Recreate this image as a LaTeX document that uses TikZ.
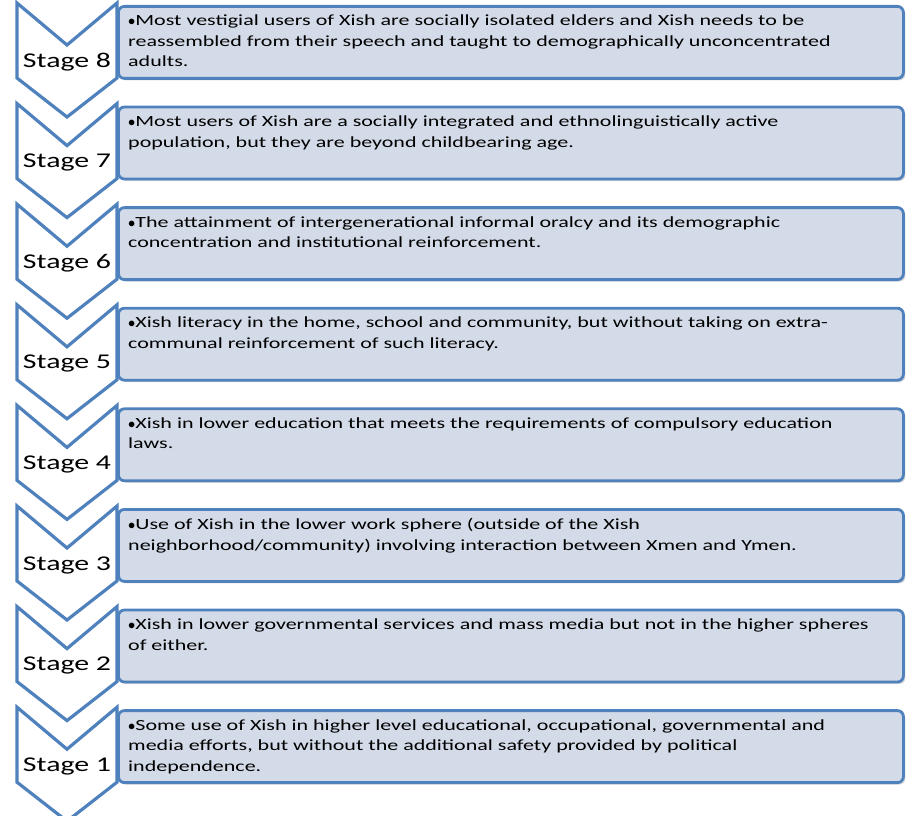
\documentclass[tikz,border=0pt]{standalone}
\usepackage{fontspec}
\setmainfont{Carlito}[FakeStretch=1.42]
\usetikzlibrary{calc,shadows,positioning}
\definecolor{chevblue}{RGB}{79,129,189}
\definecolor{boxfill}{RGB}{211,219,232}

\begin{document}
\begin{tikzpicture}[x=1pt,y=-1pt]
    \tikzstyle{chevron}=[draw=chevblue,fill=white,line width=3.2pt,line join=miter]
    \tikzstyle{stagebox}=[draw=chevblue,fill=boxfill,line width=2.8pt,rounded corners=6pt,drop shadow={shadow xshift=2pt,shadow yshift=-2pt,opacity=.3}]
    \tikzstyle{stagetxt}=[font=\fontsize{21}{24}\selectfont,inner sep=0pt]
    \tikzstyle{itemtxt}=[font=\fontsize{15.5}{20.5}\selectfont,align=left,anchor=north west,inner sep=0pt]

    \useasboundingbox (0,0) rectangle (908,816);

    \foreach \n/\txt [count=\i from 0] in {
      8/{$\bullet$Most vestigial users of Xish are socially isolated elders and Xish needs to be\\reassembled from their speech and taught to demographically unconcentrated\\adults.},
      7/{$\bullet$Most users of Xish are a socially integrated and ethnolinguistically active\\population, but they are beyond childbearing age.},
      6/{$\bullet$The attainment of intergenerational informal oralcy and its demographic\\concentration and institutional reinforcement.},
      5/{$\bullet$Xish literacy in the home, school and community, but without taking on extra-\\communal reinforcement of such literacy.},
      4/{$\bullet$Xish in lower education that meets the requirements of compulsory education\\laws.},
      3/{$\bullet$Use of Xish in the lower work sphere (outside of the Xish\\neighborhood/community) involving interaction between Xmen and Ymen.},
      2/{$\bullet$Xish in lower governmental services and mass media but not in the higher spheres\\of either.},
      1/{$\bullet$Some use of Xish in higher level educational, occupational, governmental and\\media efforts, but without the additional safety provided by political\\independence.}}
    {
      % chevron and box of one stage
      \coordinate (T\n) at (0,{3+100.6*\i});
      \draw[chevron] ($(T\n)+(17,0)$) -- ($(T\n)+(67,42)$) -- ($(T\n)+(117,0)$)
            -- ($(T\n)+(117,75)$) -- ($(T\n)+(67,114)$) -- ($(T\n)+(17,75)$) -- cycle;
      \node[stagebox,minimum width=785pt,minimum height=72pt,anchor=north west] (B\n) at ($(T\n)+(117,2)$) {};
      \node[stagetxt] (S\n) at ($(T\n)+(67,59)$) {Stage \n};
      \node[itemtxt] (X\n) at ($(B\n.north west)+(11,10)$) {\txt};
    }
\end{tikzpicture}
\end{document}
